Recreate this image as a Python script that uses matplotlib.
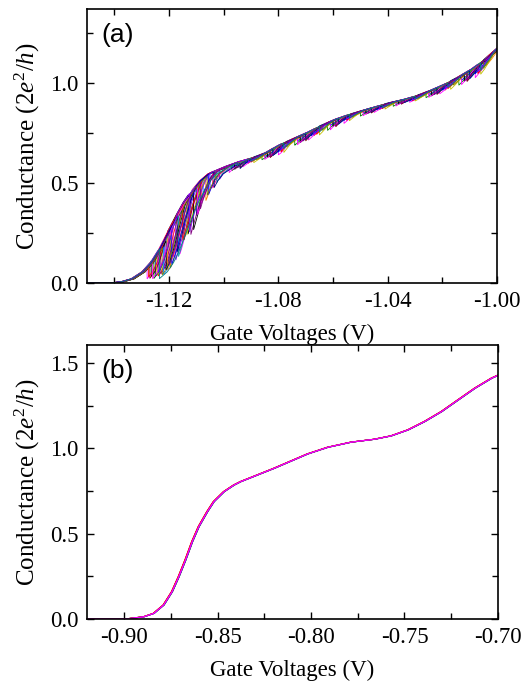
import numpy as np
import matplotlib
matplotlib.use("Agg")
import matplotlib.pyplot as plt

plt.rcParams['font.family'] = ['Liberation Serif', 'DejaVu Serif']
plt.rcParams['mathtext.fontset'] = 'custom'
plt.rcParams['mathtext.rm'] = 'Liberation Serif'
plt.rcParams['mathtext.it'] = 'Liberation Serif:italic'
plt.rcParams['axes.unicode_minus'] = False

# ---------------- data: panel (a) ----------------
# upper-envelope conductance curve
a_vg = [-1.150, -1.142, -1.138, -1.134, -1.130, -1.127, -1.124, -1.121, -1.118,
        -1.115, -1.112, -1.109, -1.106, -1.100, -1.095, -1.090, -1.085, -1.080,
        -1.075, -1.070, -1.065, -1.060, -1.055, -1.050, -1.045, -1.040, -1.035,
        -1.030, -1.025, -1.020, -1.015, -1.010, -1.005, -1.000, -0.990]
a_g = [0.000, 0.000, 0.005, 0.020, 0.055, 0.100, 0.165, 0.245, 0.325,
       0.400, 0.460, 0.510, 0.545, 0.580, 0.605, 0.625, 0.650, 0.690,
       0.720, 0.750, 0.785, 0.815, 0.840, 0.860, 0.880, 0.900, 0.915,
       0.935, 0.960, 0.990, 1.025, 1.065, 1.115, 1.175, 1.300]

# per-sweep rigid offset (V)
a_offsets = [0.0000, 0.0003, 0.0006, 0.0009, 0.0002, 0.0005, 0.0008, 0.0011,
             0.0003, 0.0006, 0.0009, 0.0012, 0.0001, 0.0004, 0.0007, 0.0010,
             0.0012, 0.0002, 0.0004, 0.0008, 0.0011, 0.0005, 0.0001, 0.0007]
# switching events in the steep rise: (position V, jump V, recovery width V)
a_steep = [
    [(-1.1265, 0.006, 0.006), (-1.1130, 0.008, 0.008)],
    [(-1.1240, 0.008, 0.008), (-1.1080, 0.006, 0.007)],
    [(-1.1215, 0.007, 0.007), (-1.1050, 0.006, 0.008)],
    [(-1.1280, 0.005, 0.006), (-1.1160, 0.008, 0.009)],
    [(-1.1195, 0.009, 0.009), (-1.1030, 0.005, 0.007)],
    [(-1.1250, 0.007, 0.007), (-1.1100, 0.007, 0.008)],
    [(-1.1175, 0.008, 0.008), (-1.1015, 0.006, 0.007)],
    [(-1.1230, 0.007, 0.008), (-1.1120, 0.008, 0.009)],
    [(-1.1235, 0.010, 0.030), (-1.0950, 0.003, 0.004)],
    [(-1.1270, 0.006, 0.006), (-1.1145, 0.007, 0.007)],
    [(-1.1205, 0.008, 0.008), (-1.1065, 0.007, 0.009)],
    [(-1.1255, 0.007, 0.007), (-1.1090, 0.006, 0.007)],
    [(-1.1185, 0.007, 0.007), (-1.1040, 0.007, 0.008)],
    [(-1.1220, 0.009, 0.010), (-1.1075, 0.006, 0.007)],
    [(-1.1245, 0.006, 0.006), (-1.1135, 0.007, 0.008)],
    [(-1.1165, 0.008, 0.008), (-1.1025, 0.006, 0.007)],
    [(-1.1210, 0.007, 0.007), (-1.1110, 0.008, 0.009)],
    [(-1.1275, 0.005, 0.006), (-1.1150, 0.007, 0.008)],
    [(-1.1190, 0.008, 0.009), (-1.1055, 0.007, 0.008)],
    [(-1.1260, 0.007, 0.007), (-1.1095, 0.007, 0.008)],
    [(-1.1225, 0.008, 0.008), (-1.1060, 0.006, 0.008)],
    [(-1.1170, 0.007, 0.007), (-1.1035, 0.007, 0.013)],
    [(-1.1240, 0.006, 0.007), (-1.1125, 0.008, 0.008)],
    [(-1.1200, 0.007, 0.008), (-1.1085, 0.007, 0.007)],
]
# positions of the small switching events along the plateau (V)
a_mid_pos = [
    [-1.094, -1.082, -1.070, -1.058, -1.046, -1.034, -1.022, -1.010],
    [-1.091, -1.079, -1.067, -1.055, -1.043, -1.031, -1.019, -1.007],
    [-1.097, -1.085, -1.073, -1.061, -1.049, -1.037, -1.025, -1.013],
    [-1.093, -1.080, -1.069, -1.056, -1.045, -1.032, -1.021, -1.008],
    [-1.089, -1.077, -1.066, -1.053, -1.041, -1.029, -1.017, -1.005],
    [-1.095, -1.084, -1.071, -1.060, -1.047, -1.036, -1.023, -1.012],
    [-1.092, -1.081, -1.068, -1.057, -1.044, -1.033, -1.020, -1.009],
    [-1.096, -1.083, -1.072, -1.059, -1.048, -1.035, -1.024, -1.011],
    [-1.090, -1.078, -1.065, -1.054, -1.042, -1.030, -1.018, -1.006],
    [-1.094, -1.083, -1.070, -1.059, -1.046, -1.035, -1.022, -1.011],
    [-1.088, -1.076, -1.064, -1.052, -1.040, -1.028, -1.016, -1.004],
    [-1.097, -1.086, -1.074, -1.062, -1.050, -1.038, -1.026, -1.014],
    [-1.091, -1.080, -1.067, -1.056, -1.043, -1.032, -1.019, -1.008],
    [-1.095, -1.082, -1.071, -1.058, -1.047, -1.034, -1.023, -1.010],
    [-1.089, -1.078, -1.065, -1.054, -1.041, -1.030, -1.017, -1.006],
    [-1.093, -1.081, -1.069, -1.057, -1.045, -1.033, -1.021, -1.009],
    [-1.096, -1.084, -1.072, -1.060, -1.048, -1.036, -1.024, -1.012],
    [-1.090, -1.079, -1.066, -1.055, -1.042, -1.031, -1.018, -1.007],
    [-1.092, -1.080, -1.068, -1.056, -1.044, -1.032, -1.020, -1.008],
    [-1.098, -1.085, -1.073, -1.061, -1.049, -1.037, -1.025, -1.013],
    [-1.088, -1.077, -1.064, -1.053, -1.040, -1.029, -1.016, -1.005],
    [-1.094, -1.082, -1.070, -1.058, -1.046, -1.034, -1.022, -1.010],
    [-1.091, -1.079, -1.067, -1.055, -1.043, -1.031, -1.019, -1.007],
    [-1.095, -1.083, -1.071, -1.059, -1.047, -1.035, -1.023, -1.011],
]
a_mid_jump = [0.004, 0.005, 0.003, 0.006, 0.004, 0.005, 0.003, 0.005,
              0.004, 0.006, 0.003, 0.005, 0.004, 0.005, 0.006, 0.003,
              0.004, 0.005, 0.004, 0.006, 0.003, 0.005, 0.004, 0.005]
a_mid_width = [0.005, 0.004, 0.005, 0.006, 0.004, 0.005, 0.004, 0.006,
               0.005, 0.004, 0.005, 0.005, 0.004, 0.006, 0.005, 0.004,
               0.005, 0.004, 0.006, 0.005, 0.004, 0.005, 0.006, 0.004]
# sweep drawn last (on top)
a_top_index = 8

# ---------------- data: panel (b) ----------------
b_vg = [-0.920, -0.900, -0.8987, -0.8897, -0.8843, -0.8790, -0.8745, -0.8709,
        -0.8673, -0.8637, -0.8602, -0.8556, -0.8521, -0.8467, -0.8413, -0.8377,
        -0.8324, -0.8198, -0.8019, -0.7911, -0.7786, -0.7661, -0.7571, -0.7481,
        -0.7392, -0.7302, -0.7212, -0.7123, -0.7033, -0.6983]
b_g = [0.000, 0.000, 0.001, 0.013, 0.033, 0.082, 0.160, 0.248,
       0.346, 0.453, 0.541, 0.629, 0.688, 0.746, 0.785, 0.805,
       0.828, 0.883, 0.967, 1.006, 1.036, 1.053, 1.073, 1.108,
       1.157, 1.215, 1.284, 1.352, 1.411, 1.436]
b_offsets = [0.0002, -0.0002, 0.0003, -0.0001, 0.0001, -0.0003, 0.0002, 0.0000]
b_colors = ['#0000FF', '#000000', '#008000', '#FF8000', '#808000', '#FF0000',
            '#8000FF', '#FF00FF']

colors = ['#000000', '#FF0000', '#0000FF', '#FF00FF', '#808000', '#000080',
          '#8000FF', '#800080', '#008080', '#800000', '#FF8000', '#008000',
          '#FF0080', '#0080FF', '#C0C000', '#00A0A0']

# ---------------- figure ----------------
fig = plt.figure(figsize=(5.26, 6.84), dpi=100)
ax1 = fig.add_axes([0.1654, 0.5863, 0.7795, 0.4006])
ax2 = fig.add_axes([0.1654, 0.0950, 0.7810, 0.4006])

xv = np.linspace(-1.15, -1.0, 3000)
order = [i for i in range(len(a_offsets)) if i != a_top_index] + [a_top_index]
for i in order:
    off = a_offsets[i]
    evs = list(a_steep[i]) + [(p, a_mid_jump[i], a_mid_width[i]) for p in a_mid_pos[i]]
    shift = np.full_like(xv, off)
    for (xj, d, w) in evs:
        m = xv >= xj
        shift[m] += d * np.clip(1 - (xv[m] - xj) / w, 0, None)
    yv = np.interp(xv - shift, a_vg, a_g)
    ax1.plot(xv, yv, color=colors[i % len(colors)], lw=0.6)

for i, off in enumerate(b_offsets):
    ax2.plot(np.array(b_vg) + off, b_g, color=b_colors[i], lw=0.8)

ylab = r'Conductance $(2e^2/h)$'
for ax in (ax1, ax2):
    ax.tick_params(which='both', direction='in', top=True, right=True,
                   labelsize=16.5, pad=6)
    ax.tick_params(which='major', length=5, width=1)
    ax.tick_params(which='minor', length=4, width=1)
    for s in ax.spines.values():
        s.set_linewidth(1.2)
    ax.set_ylabel(ylab, fontsize=18, labelpad=6)
    ax.set_xlabel('Gate Voltages (V)', fontsize=16.5, labelpad=8)

ax1.set_xlim(-1.15, -1.00)
ax1.set_ylim(0, 1.37)
ax1.set_xticks([-1.12, -1.08, -1.04, -1.00])
ax1.set_xticks([-1.14, -1.10, -1.06, -1.02], minor=True)
ax1.set_yticks([0.0, 0.5, 1.0])
ax1.set_yticks([0.25, 0.75, 1.25], minor=True)
ax1.set_xticklabels(['-1.12', '-1.08', '-1.04', '-1.00'])
ax1.set_yticklabels(['0.0', '0.5', '1.0'])

ax2.set_xlim(-0.92, -0.70)
ax2.set_ylim(0, 1.605)
ax2.set_xticks([-0.90, -0.85, -0.80, -0.75, -0.70])
ax2.set_xticks([-0.875, -0.825, -0.775, -0.725], minor=True)
ax2.set_yticks([0.0, 0.5, 1.0, 1.5])
ax2.set_yticks([0.25, 0.75, 1.25], minor=True)
ax2.set_xticklabels(['-0.90', '-0.85', '-0.80', '-0.75', '-0.70'])
ax2.set_yticklabels(['0.0', '0.5', '1.0', '1.5'])

ax1.text(0.035, 0.95, '(a)', transform=ax1.transAxes, fontsize=19,
         family=['Liberation Sans', 'DejaVu Sans'], va='top', ha='left')
ax2.text(0.035, 0.95, '(b)', transform=ax2.transAxes, fontsize=19,
         family=['Liberation Sans', 'DejaVu Sans'], va='top', ha='left')

fig.savefig('out.png', dpi=100)
